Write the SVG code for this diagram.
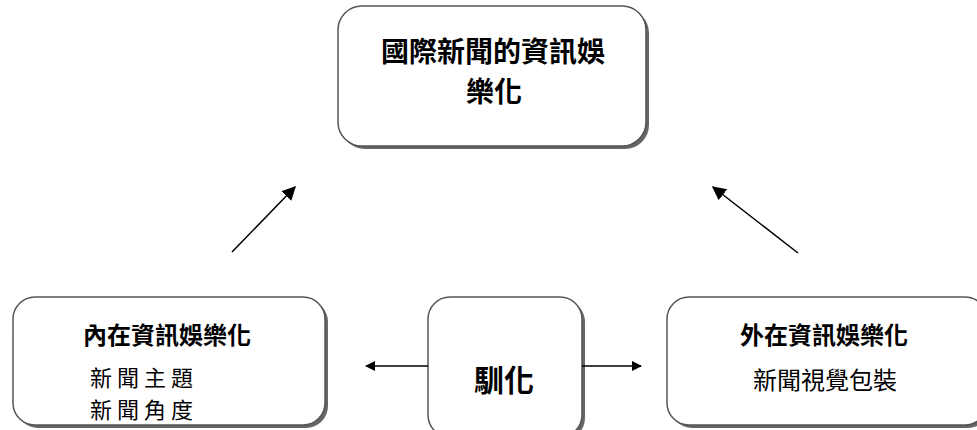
<svg xmlns="http://www.w3.org/2000/svg" width="977" height="430" viewBox="0 0 977 430">
<style>
.box{fill:#fff;stroke:#555;stroke-width:1.5}
.sh{fill:#666}
.t{font-family:"Noto Sans CJK TC","Noto Sans CJK SC",sans-serif;fill:#000;text-anchor:middle}
.b{font-weight:bold}
.ln{stroke:#000;stroke-width:1.5;fill:none}
</style>
<defs>
<marker id="ah" viewBox="0 0 10 10" refX="9" refY="5" markerWidth="10" markerHeight="10" markerUnits="userSpaceOnUse" orient="auto"><path d="M0,0 L10,5 L0,10 z" fill="#000"/></marker>
<marker id="ah2" viewBox="0 0 10 10" refX="9" refY="5" markerWidth="14" markerHeight="14" markerUnits="userSpaceOnUse" orient="auto"><path d="M0,0 L10,5 L0,10 z" fill="#000"/></marker>
</defs>
<rect width="977" height="430" fill="#fff"/>
<g id="top">
<rect class="sh" x="341" y="9" width="308" height="140" rx="24"/>
<rect class="box" x="338" y="6" width="308" height="140" rx="24"/>
<text class="t b" font-size="28"><tspan x="493" y="62">國際新聞的資訊娛</tspan><tspan x="494" y="102">樂化</tspan></text>
</g>
<g id="left">
<rect class="sh" x="16" y="300" width="312" height="128" rx="22"/>
<rect class="box" x="13" y="297" width="312" height="128" rx="22"/>
<text class="t b" x="167" y="344" font-size="24">內在資訊娛樂化</text>
<text class="t" x="90" y="386" font-size="22" letter-spacing="5" style="text-anchor:start">新聞主題</text>
<text class="t" x="90" y="418" font-size="22" letter-spacing="5" style="text-anchor:start">新聞角度</text>
</g>
<g id="mid">
<rect class="sh" x="431" y="300" width="154" height="140" rx="22"/>
<rect class="box" x="428" y="297" width="154" height="140" rx="22"/>
<text class="t b" x="504" y="391" font-size="30">馴化</text>
</g>
<g id="right">
<rect class="sh" x="670" y="300" width="320" height="128" rx="22"/>
<rect class="box" x="667" y="297" width="320" height="128" rx="22"/>
<text class="t b" x="824" y="344" font-size="24">外在資訊娛樂化</text>
<text class="t" x="825" y="389" font-size="24">新聞視覺包裝</text>
</g>
<g id="connectors">
<line class="ln" x1="428" y1="366" x2="366" y2="366" marker-end="url(#ah)"/>
<line class="ln" x1="582" y1="366" x2="641" y2="366" marker-end="url(#ah)"/>
<line class="ln" x1="232" y1="252" x2="295" y2="187" marker-end="url(#ah2)"/>
<line class="ln" x1="798" y1="253" x2="713" y2="187" marker-end="url(#ah2)"/>
</g>
</svg>
